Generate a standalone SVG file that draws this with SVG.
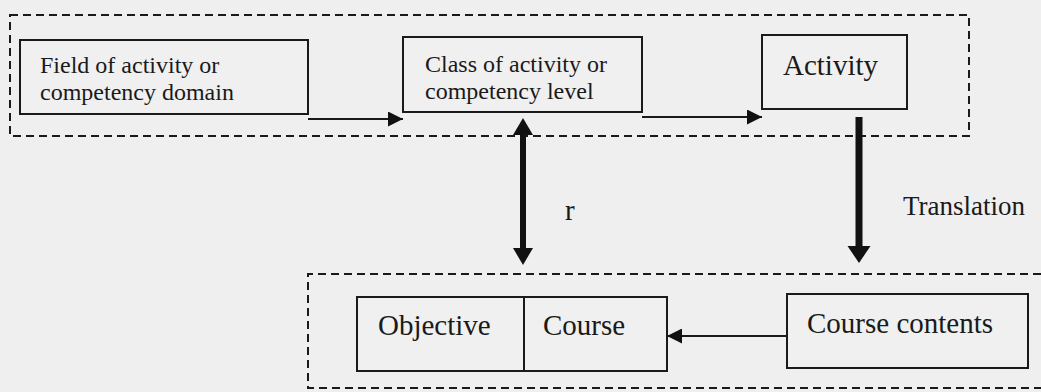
<svg xmlns="http://www.w3.org/2000/svg" width="1041" height="392" viewBox="0 0 1041 392">
<defs>
<style>
.bg{fill:#efefef}
.box{fill:#f0f0f0;stroke:#1a1a1a;stroke-width:2}
.dash{fill:none;stroke:#1a1a1a;stroke-width:2;stroke-dasharray:8 5}
.t{font-family:"Liberation Serif","Times New Roman",serif;fill:#1a1a1a}
.s{font-size:24px}
.l{font-size:29px}
.thin{stroke:#1a1a1a;stroke-width:2;fill:none}
.thick{stroke:#111;fill:none}
.head{fill:#111}
</style>
<marker id="ah" viewBox="0 0 15 15" refX="15" refY="7.5" markerWidth="15" markerHeight="15" markerUnits="userSpaceOnUse" orient="auto">
<path d="M0,0 L15,7.5 L0,15 Z" class="head"/>
</marker>
</defs>
<rect class="bg" x="0" y="0" width="1041" height="392"/>
<g id="groups">
<rect class="dash" x="10" y="15" width="959" height="121"/>
<path class="dash" d="M1041,274 H308 V388 H1041"/>
</g>
<g id="n-field">
<rect class="box" x="20" y="40" width="288" height="74"/>
<text class="t s" x="40" y="73">Field of activity or</text>
<text class="t s" x="40" y="100">competency domain</text>
</g>
<g id="n-class">
<rect class="box" x="403" y="37" width="239" height="75"/>
<text class="t s" x="425" y="72">Class of activity or</text>
<text class="t s" x="425" y="99">competency level</text>
</g>
<g id="n-activity">
<rect class="box" x="762" y="35" width="145" height="74"/>
<text class="t l" x="783" y="75">Activity</text>
</g>
<g id="n-objective-course">
<rect class="box" x="357" y="297" width="310" height="74"/>
<line class="thin" x1="524" y1="297" x2="524" y2="371"/>
<text class="t l" x="378" y="335">Objective</text>
<text class="t l" x="543" y="335">Course</text>
</g>
<g id="n-contents">
<rect class="box" x="787" y="294" width="241" height="74"/>
<text class="t l" x="807" y="333">Course contents</text>
</g>
<g id="connectors">
<line class="thin" x1="308" y1="119" x2="403" y2="119" marker-end="url(#ah)"/>
<line class="thin" x1="642" y1="117" x2="762" y2="117" marker-end="url(#ah)"/>
<line class="thin" x1="787" y1="336" x2="667" y2="336" marker-end="url(#ah)"/>
<line class="thick" x1="523" y1="133" x2="523" y2="250" stroke-width="6"/>
<path class="head" d="M523,118 L533,135 L513,135 Z"/>
<path class="head" d="M523,265 L533,248 L513,248 Z"/>
<line class="thick" x1="859" y1="117" x2="859" y2="248" stroke-width="7"/>
<path class="head" d="M859,263 L870.5,246 L847.5,246 Z"/>
<text class="t l" x="565" y="220">r</text>
<text class="t" font-size="27" x="903" y="215">Translation</text>
</g>
</svg>
